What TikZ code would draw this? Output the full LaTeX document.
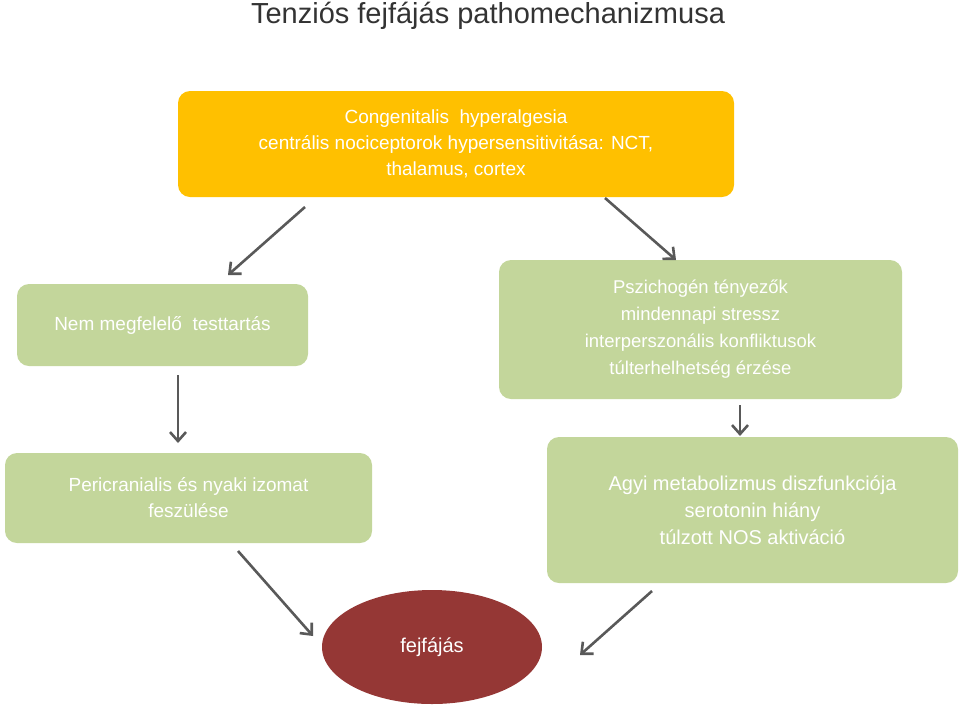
\documentclass[tikz,border=0pt]{standalone}
\usepackage{fontspec}
\setmainfont{Liberation Sans}
\usetikzlibrary{arrows.meta,shapes.geometric}
\definecolor{gbox}{HTML}{C3D69B}
\definecolor{obox}{HTML}{FFC000}
\definecolor{rbox}{HTML}{953735}
\definecolor{arr}{HTML}{595959}
\tikzset{
 box/.style={rounded corners=12pt,draw=none,text=white,align=center,inner sep=0pt,font=\fontsize{19}{26}\selectfont},
 ar/.style={draw=arr,line width=2.6pt,-{Straight Barb[length=9pt,width=16pt,line width=2.6pt]}}
}
\begin{document}
\begin{tikzpicture}[x=1pt,y=-1pt]
\useasboundingbox (0,0) rectangle (960,705);
\node (title) at (488,16) {\fontsize{29}{34}\selectfont\color{black!80} Tenziós fejfájás pathomechanizmusa};
\node[box,fill=obox,minimum width=556pt,minimum height=106pt] (top) at (456,144) {Congenitalis\ \ hyperalgesia\\centrális nociceptorok hypersensitivitása: NCT,\\thalamus, cortex};
\node[box,fill=gbox,minimum width=291pt,minimum height=82pt] (nem) at (162.5,325) {Nem megfelelő\ \ testtartás};
\node[box,fill=gbox,minimum width=403pt,minimum height=139pt,font=\fontsize{18.5}{27}\selectfont] (psz) at (700.5,329.5) {Pszichogén tényezők\\mindennapi stressz\\interperszonális konfliktusok\\túlterhelhetség érzése};
\node[box,fill=gbox,minimum width=367pt,minimum height=90pt] (peri) at (188.5,498) {Pericranialis és nyaki izomat\\feszülése};
\node[box,fill=gbox,minimum width=411pt,minimum height=146pt,font=\fontsize{20}{27}\selectfont] (agyi) at (752.5,510) {Agyi metabolizmus diszfunkciója\\serotonin hiány\\túlzott NOS aktiváció};
\node[ellipse,fill=rbox,text=white,minimum width=220pt,minimum height=114pt,inner sep=0pt,font=\fontsize{20}{24}\selectfont] (fej) at (432,647) {fejfájás};
\coordinate (a1) at (305,207); \coordinate (b1) at (228,275);
\coordinate (a2) at (605,198); \coordinate (b2) at (676,260);
\coordinate (a3) at (178,375); \coordinate (b3) at (178,443);
\coordinate (a4) at (740,405); \coordinate (b4) at (740,436);
\coordinate (a5) at (238,551); \coordinate (b5) at (313,636);
\coordinate (a6) at (652,591); \coordinate (b6) at (580,655);
\foreach \i in {1,...,6}{\draw[ar] (a\i) -- (b\i);}
\end{tikzpicture}
\end{document}
